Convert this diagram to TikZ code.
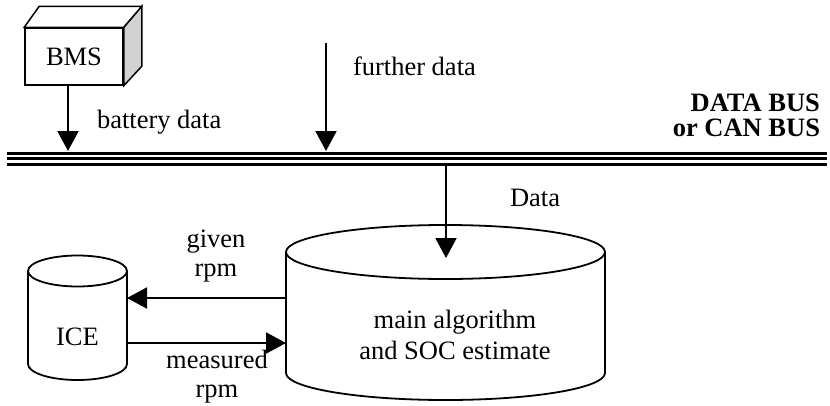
\documentclass[tikz,border=0pt]{standalone}
\usepackage{fontspec}
\setmainfont{Liberation Serif}
\usetikzlibrary{arrows.meta}
\begin{document}
\begin{tikzpicture}[x=1pt,y=-1pt,
  lbl/.style={font=\fontsize{26.5}{30}\selectfont, inner sep=0pt, outer sep=0pt},
  link/.style={line width=2pt, -{Triangle[width=21pt,length=20pt]}},
  outline/.style={line width=1.8pt},
  busline/.style={line width=3.2pt},
  boxface/.style={draw, line width=1.5pt, fill=white}]
\useasboundingbox (0,0) rectangle (830,405);

% ---- data bus: three parallel rails ----
\coordinate (busW) at (7,158.7);
\coordinate (busE) at (827,158.7);
\draw[busline] ([yshift=5.5pt]busW) -- ([yshift=5.5pt]busE);
\draw[busline] (busW) -- (busE);
\draw[busline] ([yshift=-5.5pt]busW) -- ([yshift=-5.5pt]busE);
\node[lbl, font=\fontsize{26.5}{25}\selectfont\bfseries, align=right, anchor=east]
  (buslabel) at (820,115) {DATA BUS\\or CAN BUS};

% ---- BMS block drawn as a box in perspective ----
\node[boxface, minimum width=98pt, minimum height=57pt, inner sep=0pt] (bms) at (74,56.5) {};
\filldraw[line width=1.5pt, fill=gray!35]
  (bms.north east) -- ++(18,-21) -- ++(0,60) -- (bms.south east) -- cycle;
\filldraw[line width=1.5pt, fill=white]
  (bms.north west) -- ++(15,-21) -- ([shift={(18,-21)}]bms.north east) -- (bms.north east) -- cycle;
\node[lbl, anchor=base] (bmstext) at (74,65) {BMS};

% ---- ICE cylinder ----
\draw[outline] (28,271) -- (28,364)
  arc[start angle=180, end angle=0, x radius=49.5, y radius=16] -- (127,271);
\draw[outline] (77.5,271) ellipse[x radius=49.5, y radius=15.5];
\node[lbl, anchor=base] (ice) at (77.5,345) {ICE};

% ---- main algorithm cylinder ----
\draw[outline] (286,252) -- (286,373)
  arc[start angle=180, end angle=0, x radius=159.5, y radius=27] -- (605,252);
\draw[outline] (445.5,252) ellipse[x radius=159.5, y radius=27];
\node[lbl, align=center, font=\fontsize{26.5}{31}\selectfont] (main) at (455,334.6)
  {main algorithm\\and SOC estimate};

% ---- connector end points ----
\coordinate (bmsIn) at (68,151);
\coordinate (furtherTop) at (326,43);
\coordinate (furtherIn) at (326,151);
\coordinate (busOut) at (446,165);
\coordinate (mainTop) at (446,258);
\coordinate (mainGiven) at (286,298);
\coordinate (iceGiven) at (127,298);
\coordinate (iceMeas) at (127,343);
\coordinate (mainMeas) at (286,343);

% ---- connectors ----
\draw[link] ([xshift=-6pt]bms.south) -- (bmsIn);
\draw[link] (furtherTop) -- (furtherIn);
\draw[link] (busOut) -- (mainTop);
\draw[link] (mainGiven) -- (iceGiven);
\draw[link] (iceMeas) -- (mainMeas);

% ---- connector labels ----
\node[lbl, anchor=base west] (battery) at (97,128) {battery data};
\node[lbl, anchor=base west] (further) at (353,75) {further data};
\node[lbl, anchor=base west] (data) at (510,206.5) {Data};
\node[lbl, align=center, font=\fontsize{26.5}{29}\selectfont] (given) at (216,256.4) {given\\rpm};
\node[lbl, align=center, font=\fontsize{26.5}{29}\selectfont] (measured) at (217,376.4) {measured\\rpm};
\end{tikzpicture}
\end{document}
